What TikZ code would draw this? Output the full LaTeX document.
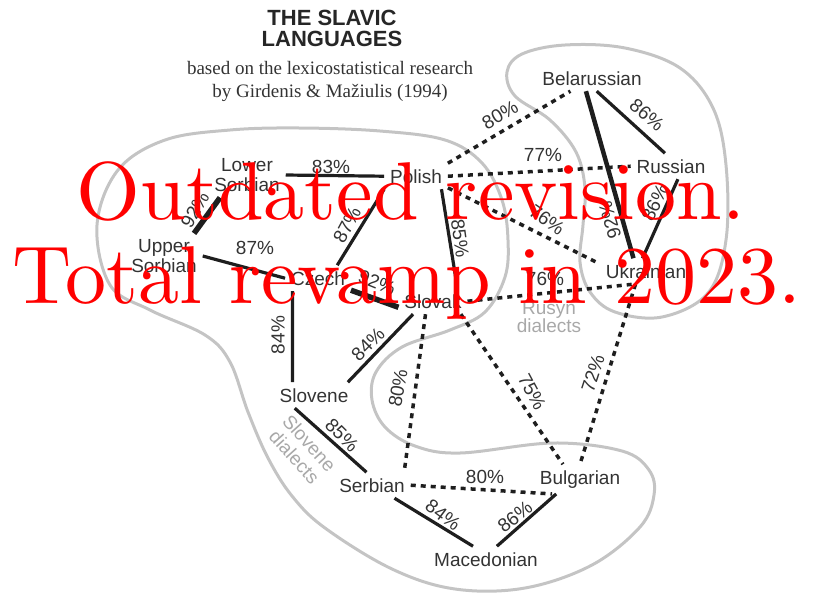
\documentclass[tikz,border=0pt]{standalone}
\usepackage{fontspec}
\setsansfont{Liberation Sans}
\newfontfamily\subfont{Liberation Serif}
\newfontfamily\stampfont{lmroman10-regular.otf}

\definecolor{textgray}{HTML}{333333}
\definecolor{linkgray}{HTML}{1E1E1E}
\definecolor{blobgray}{HTML}{C4C4C4}
\definecolor{dialgray}{HTML}{A8A8A8}

\begin{document}
\begin{tikzpicture}[
    x=1pt, y=-1pt,
    lang/.style={
        font=\sffamily\fontsize{19}{20}\selectfont, text=textgray,
        inner sep=2pt, outer sep=4pt, align=center
    },
    pct/.style={font=\sffamily\fontsize{19}{20}\selectfont, text=textgray, inner sep=0pt},
    dial/.style={font=\sffamily\fontsize{19}{17}\selectfont, text=dialgray, align=center, inner sep=0pt},
    link/.style={line width=3.2pt, color=linkgray},
    thicklink/.style={line width=5.5pt, color=linkgray},
    dotlink/.style={line width=3.5pt, color=linkgray, dash pattern=on 5pt off 5pt},
    blob/.style={line width=3pt, color=blobgray}
]
    \useasboundingbox (0,0) rectangle (813,598);

    % outlines of the groups
    \draw[blob] plot[smooth cycle, tension=0.6] coordinates {
        (97,225) (118,170) (165,140) (230,130) (300,128) (380,131) (445,140)
        (482,163) (502,200) (508,240) (505,277) (485,312) (450,330) (402,347)
        (376,372) (372,400) (385,427) (415,446) (460,453) (553,443) (622,451)
        (649,470) (654,495) (640,527) (592,565) (525,588) (455,589) (392,569)
        (325,528) (292,496) (268,458) (248,412) (230,362) (205,335) (150,310)
        (110,285)};
    \draw[blob] plot[smooth cycle, tension=0.6] coordinates {
        (507,72) (522,54) (565,45) (625,48) (680,68) (713,108) (726,165)
        (726,240) (708,293) (662,317) (615,312) (590,292) (580,262) (583,225)
        (585,188) (576,152) (550,120) (515,96)};

    % title
    \node[font=\sffamily\bfseries\fontsize{22}{21}\selectfont, text=black!85,
        align=center, inner sep=0pt, anchor=north] (title) at (332,9.5) {THE SLAVIC\\LANGUAGES};
    \node[font=\subfont\fontsize{19}{23}\selectfont, text=textgray,
        align=center, inner sep=0pt, anchor=north] (subtitle) at (330,61)
        {based on the lexicostatistical research\\by Girdenis \& Mažiulis (1994)};

    % languages
    \node[lang, anchor=base] (bel) at (592,85) {Belarussian};
    \node[lang, anchor=base] (rus) at (671,173) {Russian};
    \node[lang, anchor=base] (ukr) at (646,278) {Ukrainian};
    \node[lang, anchor=base] (pol) at (416,183) {Polish};
    \node[lang] (lsb) at (247,175) {Lower\\Sorbian};
    \node[lang] (usb) at (164,256) {Upper\\Sorbian};
    \node[lang, anchor=base] (cze) at (318,285) {Czech};
    \node[lang, anchor=base] (slk) at (433,308) {Slovak};
    \node[lang, anchor=base] (slv) at (314,402) {Slovene};
    \node[lang, anchor=base] (srb) at (372,492) {Serbian};
    \node[lang, anchor=base] (bul) at (580,484) {Bulgarian};
    \node[lang, anchor=base] (mac) at (486,566) {Macedonian};

    \node[dial] (rusdial) at (549,317) {Rusyn\\dialects};
    \node[dial, rotate=-48] (slvdial) at (302,450) {Slovene\\[3pt]dialects};

    % close links
    \draw[link] (bel.-70) -- (rus.115);
    \draw[link, line width=4.5pt] (bel.-115) -- (ukr.134);
    \draw[link] (rus.-62) -- (ukr.105);
    \draw[link] (lsb.east) -- (pol.west);
    \draw[thicklink] (lsb.-140) -- (usb.37);
    \draw[link] (usb.east) -- (cze.west);
    \draw[link] (pol.south west) -- (cze.34);
    \draw[link] (pol.-27) -- (slk.28);
    \draw[thicklink] (cze.-20) -- (slk.190);
    \draw[link] (cze.-153) -- (slv.149);
    \draw[link] (slk.-147) -- (slv.21);
    \draw[link] (slv.-146) -- (srb.113);
    \draw[link] (srb.-30) -- (mac.135);
    \draw[link] (bul.-148) -- (mac.50);

    % distant links
    \draw[dotlink] (pol.north east) -- (bel.-149);
    \draw[dotlink] (pol.east) -- (rus.west);
    \draw[dotlink] (pol.-20) -- (ukr.171);
    \draw[dotlink] (slk.east) -- (ukr.-134);
    \draw[dotlink] (slk.-120) -- (srb.22);
    \draw[dotlink] (slk.-25) -- (bul.139);
    \draw[dotlink] (ukr.-129) -- (bul.north);
    \draw[dotlink] (srb.east) -- (bul.-152);

    % percentages
    \node[pct, rotate=-40] (belrus) at (647,115) {86\%};
    \node[pct, rotate=106] (belukr) at (610,220) {92\%};
    \node[pct, rotate=64] (rusukr) at (655,203) {86\%};
    \node[pct] (lsbpol) at (331,167) {83\%};
    \node[pct, rotate=60] (lsbusb) at (195,210) {92\%};
    \node[pct] (usbcze) at (255,248) {87\%};
    \node[pct, rotate=62] (polcze) at (347,225) {87\%};
    \node[pct, rotate=-82] (polslk) at (460,238) {85\%};
    \node[pct, rotate=-22] (czeslk) at (377,283) {92\%};
    \node[pct, rotate=90] (czeslv) at (278,335) {84\%};
    \node[pct, rotate=45] (slkslv) at (368,344) {84\%};
    \node[pct, rotate=-45] (slvsrb) at (342,435) {85\%};
    \node[pct, rotate=-37] (srbmac) at (443,515) {84\%};
    \node[pct, rotate=38] (bulmac) at (515,517) {86\%};
    \node[pct, rotate=30] (polbel) at (500,115) {80\%};
    \node[pct] (polrus) at (543,155) {77\%};
    \node[pct, rotate=-35] (polukr) at (547,220) {76\%};
    \node[pct] (slkukr) at (545,279) {76\%};
    \node[pct, rotate=80] (slksrb) at (398,388) {80\%};
    \node[pct, rotate=-62] (slkbul) at (532,392) {75\%};
    \node[pct, rotate=72] (ukrbul) at (593,373) {72\%};
    \node[pct] (srbbul) at (485,477) {80\%};

    % revision stamp
    \node[font=\stampfont\fontsize{82}{82}\selectfont, text=red, inner sep=0pt, anchor=base] (stamp1)
        at (411,219) {Outdated revision.};
    \node[font=\stampfont\fontsize{82}{82}\selectfont, text=red, inner sep=0pt, anchor=base] (stamp2)
        at (407,303) {Total revamp in 2023.};
\end{tikzpicture}
\end{document}
